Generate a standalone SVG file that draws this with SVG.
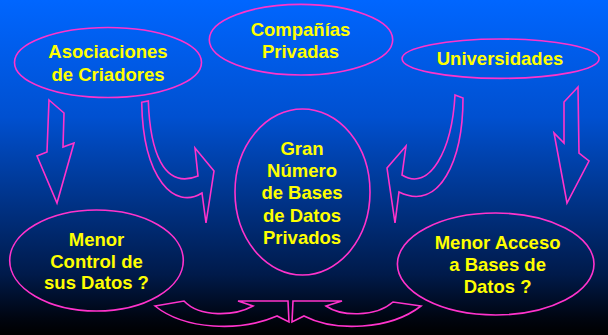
<svg xmlns="http://www.w3.org/2000/svg" width="608" height="335" viewBox="0 0 608 335">
<defs>
<linearGradient id="bg" x1="0" y1="0" x2="0" y2="335" gradientUnits="userSpaceOnUse">
<stop offset="0" stop-color="#0066ff"/>
<stop offset="0.35" stop-color="#0050d0"/>
<stop offset="0.6" stop-color="#003388"/>
<stop offset="0.82" stop-color="#001a4a"/>
<stop offset="0.95" stop-color="#000510"/>
<stop offset="1" stop-color="#000000"/>
</linearGradient>
<style>
.n{fill:none;stroke:#ff33cc;stroke-width:1.6}
.a{fill:none;stroke:#ff33cc;stroke-width:1.6;stroke-linejoin:miter}
.t{font-family:"Liberation Sans",Arial,sans-serif;font-weight:bold;font-size:18.5px;fill:#ffff00;text-anchor:middle}
</style>
</defs>
<rect x="0" y="0" width="608" height="335" fill="url(#bg)"/>
<g id="asociaciones">
<ellipse class="n" cx="108" cy="62.5" rx="93.5" ry="35"/>
<text class="t" x="108" y="58">Asociaciones</text>
<text class="t" x="108" y="81">de Criadores</text>
</g>
<g id="companias">
<ellipse class="n" cx="301" cy="39.7" rx="91.7" ry="35.3"/>
<text class="t" x="300.5" y="36">Compañías</text>
<text class="t" x="300.5" y="58.3">Privadas</text>
</g>
<g id="universidades">
<ellipse class="n" cx="500.6" cy="58.7" rx="98.5" ry="19.7"/>
<text class="t" x="500" y="65">Universidades</text>
</g>
<g id="gran-numero">
<ellipse class="n" cx="302.5" cy="192" rx="67.5" ry="83"/>
<text class="t" x="302" y="155">Gran</text>
<text class="t" x="302" y="177">Número</text>
<text class="t" x="302" y="199">de Bases</text>
<text class="t" x="302" y="221.5">de Datos</text>
<text class="t" x="302" y="243.5">Privados</text>
</g>
<g id="menor-control">
<ellipse class="n" cx="96.5" cy="260.5" rx="86.8" ry="50.5"/>
<text class="t" x="96.5" y="245.7">Menor</text>
<text class="t" x="96.5" y="267.7">Control de</text>
<text class="t" x="96.5" y="289.3">sus Datos ?</text>
</g>
<g id="menor-acceso">
<ellipse class="n" cx="495.7" cy="264" rx="98.3" ry="51"/>
<text class="t" x="497.6" y="249.3">Menor Acceso</text>
<text class="t" x="497.6" y="270.7">a Bases de</text>
<text class="t" x="497.6" y="292.7">Datos ?</text>
</g>
<g id="connectors">
<polygon class="a" points="49,100 64,113 63,147 74,143 57,203 37,156 47,152"/>
<path class="a" d="M141.7,102.3 L148.3,101 C150,150 163,190 198,176 L195,148 L214,171 L206,223 L202,193 C175,210 143,180 141.7,102.3 Z"/>
<path class="a" d="M455,95 L463,98 C463,160 440,212 399,192 L395,223 L387,168 L406,146 L402,175 C430,192 452,150 455,95 Z"/>
<polygon class="a" points="578,87 564,102 564,143 554,133 567,203 589,161 579,153"/>
<path class="a" d="M155,306 L184,301 C200,318 235,316 253,306 L238,301 L288,301 L289,322 L277,316 C240,332 185,330 155,306 Z"/>
<path class="a" d="M293,301 L342,301 L326,306 C340,316 375,318 393,302 L421,306 C390,330 335,332 304,316 L292,322 Z"/>
</g>
</svg>
